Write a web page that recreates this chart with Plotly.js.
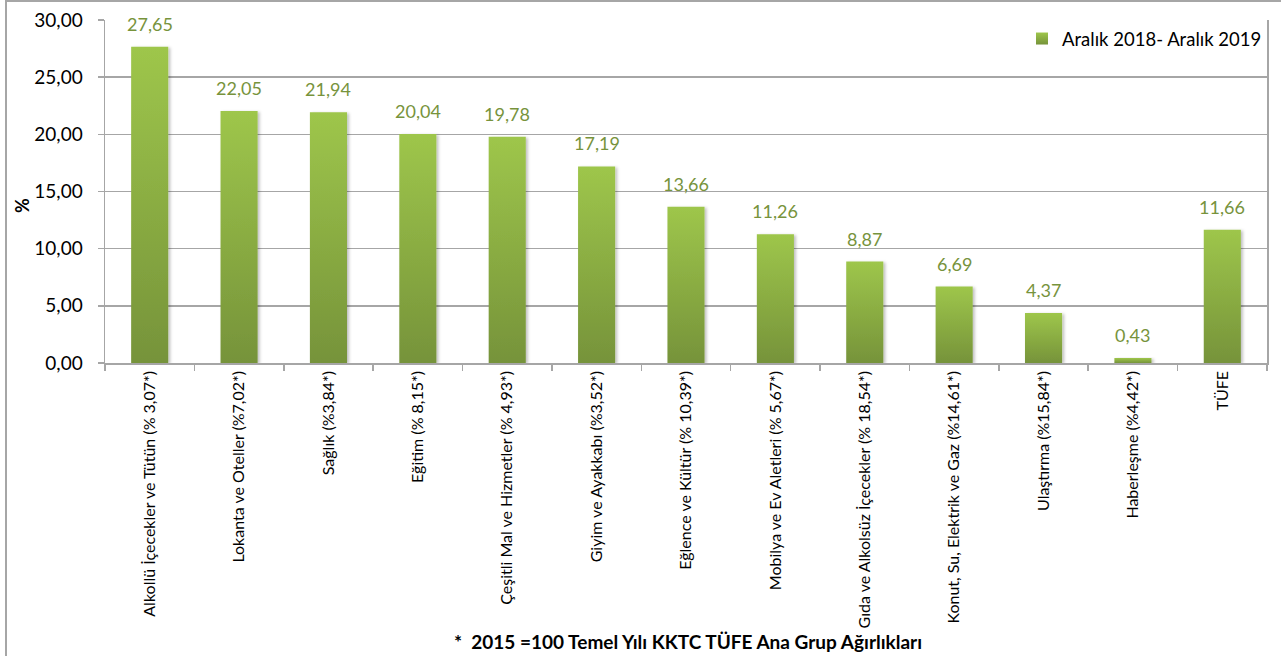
<!DOCTYPE html>
<html>
<head>
<meta charset="utf-8">
<script src="https://cdn.plot.ly/plotly-3.0.1.min.js"></script>
<style>
  html, body { margin: 0; padding: 0; background: #fff; }
  #wrap { position: relative; width: 1281px; height: 656px; overflow: hidden; }
  #chart { width: 1281px; height: 656px; }
  #frame { position: absolute; left: 5px; top: 0px; width: 1400px; height: 800px;
           border-left: 2px solid #a6a6a6; border-top: 2px solid #a6a6a6; pointer-events: none; }
</style>
</head>
<body>
<div id="wrap">
  <div id="chart"></div>
  <div id="frame"></div>
</div>
<script>
// ---- data ----
const categories = [
  "Alkollü İçecekler ve Tütün (% 3,07*)",
  "Lokanta ve Oteller (%7,02*)",
  "Sağlık (%3,84*)",
  "Eğitim (% 8,15*)",
  "Çeşitli Mal ve Hizmetler (% 4,93*)",
  "Giyim ve Ayakkabı (%3,52*)",
  "Eğlence ve Kültür (% 10,39*)",
  "Mobilya ve Ev Aletleri (% 5,67*)",
  "Gıda ve Alkolsüz İçecekler (% 18,54*)",
  "Konut, Su, Elektrik ve Gaz (%14,61*)",
  "Ulaştırma (%15,84*)",
  "Haberleşme (%4,42*)",
  "TÜFE"
];
const values = [27.65, 22.05, 21.94, 20.04, 19.78, 17.19, 13.66, 11.26, 8.87, 6.69, 4.37, 0.43, 11.66];
const seriesName = "Aralık 2018- Aralık 2019";
const yTickValues = [0, 5, 10, 15, 20, 25, 30];
const yAxisTitle = "%";
const footnote = "*  2015 =100 Temel Yılı KKTC TÜFE Ana Grup Ağırlıkları";

const FONT = "Lato, 'Open Sans', sans-serif";
const labelColor = "#77933C";
const gridColor = "#a6a6a6";

const trace = {
  type: "bar",
  x: categories,
  y: values,
  name: seriesName,
  marker: { color: "#8cb043", line: { width: 0 } },
  showlegend: true,
  hoverinfo: "x+y"
};

const labelAnnotations = values.map((v, i) => ({
  x: categories[i], y: v, xref: "x", yref: "y",
  text: v.toFixed(2).replace(".", ","),
  showarrow: false, yanchor: "middle", yshift: 23,
  font: { family: FONT, size: 18, color: labelColor }
}));

const layout = {
  width: 1281, height: 656,
  margin: { l: 105, r: 14, t: 20, b: 293 },
  paper_bgcolor: "#fff", plot_bgcolor: "#fff",
  separators: ",.",
  bargap: 0.585,
  showlegend: true,
  legend: {
    x: 1, xanchor: "right", y: 1, yanchor: "top",
    bgcolor: "rgba(255,255,255,0)",
    font: { family: FONT, size: 18.5, color: "#000" },
    itemwidth: 30
  },
  xaxis: {
    type: "category",
    tickangle: -90,
    tickson: "boundaries",
    ticks: "outside", ticklen: 6, tickcolor: gridColor, tickwidth: 1.5,
    showline: true, linecolor: gridColor, linewidth: 1.5,
    showgrid: false,
    tickfont: { family: FONT, size: 16, color: "#000" },
    automargin: false,
    fixedrange: true
  },
  yaxis: {
    range: [0, 30],
    tickvals: yTickValues,
    tickformat: ".2f",
    ticks: "outside", ticklen: 6, tickcolor: gridColor, tickwidth: 1.5,
    ticklabelstandoff: 11,
    showline: true, mirror: true, linecolor: gridColor, linewidth: 1.5,
    showgrid: true, gridcolor: gridColor, gridwidth: 1.5,
    zeroline: false,
    tickfont: { family: FONT, size: 19, color: "#000" },
    automargin: false,
    fixedrange: true
  },
  annotations: labelAnnotations.concat([{
    xref: "paper", yref: "paper", x: 0.502, y: -0.813,
    xanchor: "center", yanchor: "middle", showarrow: false,
    text: "<b>" + footnote + "</b>",
    font: { family: FONT, size: 19, color: "#000" }
  }, {
    xref: "paper", yref: "paper", x: -0.0714, y: 0.458,
    xanchor: "center", yanchor: "middle", showarrow: false, textangle: -90,
    text: "<b>" + yAxisTitle + "</b>",
    font: { family: FONT, size: 18, color: "#000" }
  }])
};

Plotly.newPlot("chart", [trace], layout, { displayModeBar: false, staticPlot: true }).then(function (gd) {
  const svg = gd.querySelector("svg.main-svg");
  const ns = "http://www.w3.org/2000/svg";
  let defs = svg.querySelector("defs");
  if (!defs) { defs = document.createElementNS(ns, "defs"); svg.insertBefore(defs, svg.firstChild); }
  const grad = document.createElementNS(ns, "linearGradient");
  grad.setAttribute("id", "barGrad");
  grad.setAttribute("x1", "0"); grad.setAttribute("y1", "0");
  grad.setAttribute("x2", "0"); grad.setAttribute("y2", "1");
  [["0%", "#9ec64b"], ["100%", "#76933a"]].forEach(function (s) {
    const st = document.createElementNS(ns, "stop");
    st.setAttribute("offset", s[0]); st.setAttribute("stop-color", s[1]);
    grad.appendChild(st);
  });
  defs.appendChild(grad);
  const filt = document.createElementNS(ns, "filter");
  filt.setAttribute("id", "barShadow");
  filt.setAttribute("x", "-20%"); filt.setAttribute("y", "-5%");
  filt.setAttribute("width", "150%"); filt.setAttribute("height", "115%");
  const ds = document.createElementNS(ns, "feDropShadow");
  ds.setAttribute("dx", "2"); ds.setAttribute("dy", "1");
  ds.setAttribute("stdDeviation", "1.5"); ds.setAttribute("flood-opacity", "0.25");
  filt.appendChild(ds);
  defs.appendChild(filt);
  gd.querySelectorAll(".barlayer .bars path").forEach(function (p) {
    p.style.fill = "url(#barGrad)";
    p.setAttribute("filter", "url(#barShadow)");
  });
  gd.querySelectorAll(".legend .legendpoints path").forEach(function (p) {
    p.style.fill = "url(#barGrad)";
  });
});
</script>
</body>
</html>
